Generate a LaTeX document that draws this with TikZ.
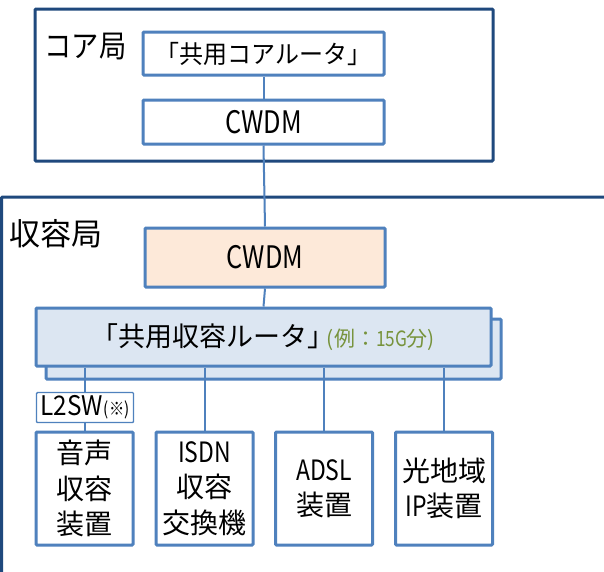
\documentclass[tikz,border=0pt]{standalone}
\usepackage{fontspec}
\usepackage{graphicx}
\setmainfont{Noto Sans CJK JP}
\newcommand\nw[1]{\scalebox{0.82}[1]{#1}}
\definecolor{navy}{HTML}{1F497D}
\definecolor{boxblue}{HTML}{4F81BD}
\definecolor{peach}{HTML}{FDE9D9}
\definecolor{paleblue}{HTML}{DCE6F2}
\definecolor{olive}{HTML}{77933C}
\tikzset{
  office/.style={draw=navy, line width=3pt, rounded corners=1pt},
  unit/.style={draw=boxblue, line width=3pt, fill=white, rounded corners=1pt,
    inner sep=0pt, align=center},
  link/.style={draw=boxblue, line width=2pt},
  big/.style={font=\fontsize{31}{31}\selectfont},
  mid/.style={font=\fontsize{25}{25}\selectfont},
  eq/.style={font=\fontsize{28}{35.5}\selectfont},
  latin/.style={font=\fontsize{31}{31}\selectfont},
}
\begin{document}
\begin{tikzpicture}[x=1pt, y=-1pt]
\clip (0,0) rectangle (604,571);
\fill[white] (0,0) rectangle (604,571);

% core office
\draw[office] (35,9) rectangle (493,161);
\node[big, anchor=west] (corelbl) at (41,47) {\scalebox{0.88}[1]{コア局}};
\node[unit, mid, minimum width=241, minimum height=43] (corert) at (263.5,53.5) {\scalebox{0.96}[1]{「共用コアルータ」}};
\node[unit, latin, minimum width=241, minimum height=44] (cwdma) at (263.5,122) {\nw{CWDM}};

% accommodation office (runs off the right and bottom)
\draw[office] (1.5,640) -- (1.5,197) -- (640,197);
\node[big, anchor=west] (acclbl) at (6,234) {収容局};
\node[unit, latin, fill=peach, minimum width=240, minimum height=59] (cwdmb) at (265,257.5) {\nw{CWDM}};

% shared accommodation router, doubled
\node[unit, fill=paleblue, minimum width=455, minimum height=60] (rtback) at (273.5,349) {};
\node[unit, fill=paleblue, minimum width=455, minimum height=58] (rt) at (263.5,337)
  {\raisebox{-4pt}{\fontsize{27}{27}\selectfont 「共用収容ルータ」\hspace{-8pt}\textcolor{olive}{\fontsize{21}{21}\selectfont (例：\nw{15G}分)}}};

% L2 switch
\node[unit, line width=1.4pt, minimum width=97, minimum height=30] (l2) at (85,407.5)
  {\fontsize{27}{27}\selectfont\scalebox{0.9}[1]{L2SW}\hspace{1pt}\fontsize{18}{18}\selectfont\scalebox{0.85}[1]{(※)}};

% equipment
\node[unit, eq, minimum width=97, minimum height=113] (voice) at (84.5,488.5) {音声\\収容\\装置};
\node[unit, eq, minimum width=97, minimum height=113] (isdn) at (204.5,488.5) {\nw{ISDN}\\収容\\交換機};
\node[unit, eq, minimum width=97, minimum height=113] (adsl) at (324,488.5) {\nw{ADSL}\\装置};
\node[unit, eq, minimum width=97, minimum height=113] (ip) at (444,488.5) {光地域\\\nw{IP}装置};

% connectors
\draw[link] (corert.south) -- (cwdma.north);
\draw[link] (cwdma.south) -- (cwdmb.north);
\draw[link] (cwdmb.south) -- (rt.north);
\draw[link] (rt.south -| l2.north) -- (l2.north);
\draw[link] (l2.south) -- (l2.south |- voice.north);
\draw[link] (rt.south -| isdn.north) -- (isdn.north);
\draw[link] (rt.south -| adsl.north) -- (adsl.north);
\draw[link] (rt.south -| ip.north) -- (ip.north);
\end{tikzpicture}
\end{document}
